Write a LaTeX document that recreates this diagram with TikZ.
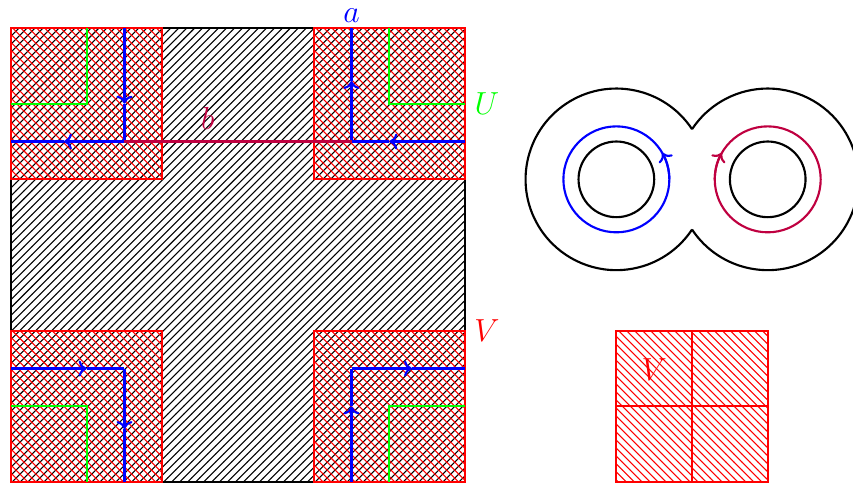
\documentclass[tikz,border=0pt]{standalone}
\usepackage{tikz}
\usetikzlibrary{patterns,arrows.meta}
\tikzset{
  >={To[length=3pt,width=6pt]},
  lbl/.style={font=\large,inner sep=0pt},
  patch/.style={draw=red,pattern=north west lines,pattern color=red},
}
\begin{document}
\begin{tikzpicture}[line width=.8pt]
      \useasboundingbox (-.145,-.053) rectangle (11.127,6.37);
      % square
      \path[pattern=north east lines] (0,0) rectangle (6,6);
      \draw[black] (0,0) rectangle (6,6);
      % corners
      \path[patch] (0,0) rectangle (2,2);
      \path[patch] (4,0) rectangle (6,2);
      \path[patch] (0,4) rectangle (2,6);
      \path[patch] (4,4) rectangle (6,6);
      % green
      \draw[green] (1,6) -- (1,5) -- (0,5);
      \draw[green] (5,6) -- (5,5) -- (6,5);
      \draw[green] (0,1) -- (1,1) -- (1,0);
      \draw[green] (6,1) -- (5,1) -- (5,0);
      % blue
      \draw[blue,->] (1.5,6) -- (1.5,5);
      \draw[blue] (1.5,5) -- (1.5,4.5);
      \draw[blue,->] (1.5,4.5) -- (.7,4.5);
      \draw[blue] (.7,4.5) -- (0,4.5);
      \draw[blue,->] (4.5,4.5) -- (4.5,5.3);
      \draw[blue] (4.5,5.3) -- (4.5,6);
      \draw[blue,->] (6,4.5) -- (5,4.5);
      \draw[blue] (5,4.5) -- (4.5,4.5);
      \draw[blue,->] (0,1.5) -- (1,1.5);
      \draw[blue] (1,1.5) -- (1.5,1.5);
      \draw[blue,->] (1.5,1.5) -- (1.5,.7);
      \draw[blue] (1.5,.7) -- (1.5,0);
      \draw[blue,->] (4.5,0) -- (4.5,1);
      \draw[blue] (4.5,1) -- (4.5,1.5);
      \draw[blue,->] (4.5,1.5) -- (5.3,1.5);
      \draw[blue] (5.3,1.5) -- (6,1.5);
      \draw[purple] (1.5,4.5) -- (4.5,4.5);
      % labels
      \node[lbl,blue] (a) at (4.5,6.165) {$a$};
      \node[lbl,purple] (b) at (2.6,4.8) {$b$};
      \node[lbl,green] (U) at (6.29,5) {$U$};
      \node[lbl,red] (V) at (6.29,2) {$V$};
      % torus
      \draw[black] (8,4) ++(33.56:1.2) arc[start angle=33.56,end angle=326.44,radius=1.2];
      \draw[black] (10,4) ++(213.56:1.2) arc[start angle=213.56,end angle=506.44,radius=1.2];
      \draw[black] (8,4) circle[radius=.5];
      \draw[black] (10,4) circle[radius=.5];
      \draw[blue] (8,4) circle[radius=.7];
      \draw[purple] (10,4) circle[radius=.7];
      \draw[blue,->] (8,4) ++(0:.7) arc[start angle=0,end angle=30,radius=.7];
      \draw[purple,->] (10,4) ++(180:.7) arc[start angle=180,end angle=150,radius=.7];
      % small square
      \path[patch] (8,0) rectangle (10,2);
      \draw[red] (9,0) -- (9,2);
      \draw[red] (8,1) -- (10,1);
      \node[lbl,red] (W) at (8.5,1.49) {$V$};
    \end{tikzpicture}
\end{document}
